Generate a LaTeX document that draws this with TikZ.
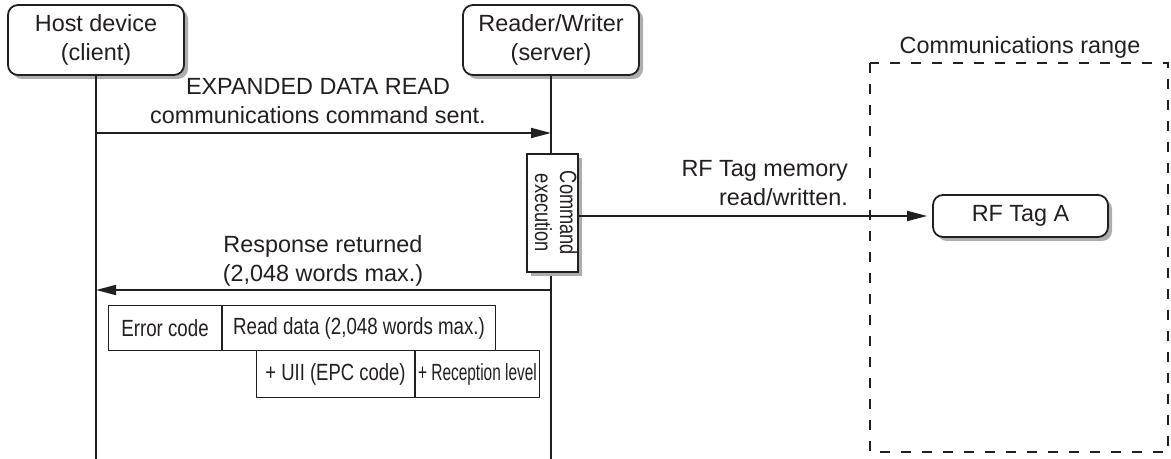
\documentclass[tikz,border=0pt]{standalone}
\usepackage{fontspec}
\setmainfont{Liberation Sans}
\usetikzlibrary{positioning,arrows.meta,shadows}
\definecolor{ink}{HTML}{231F20}

\begin{document}
\begin{tikzpicture}[
  x=0.5pt, y=-0.5pt,
  font=\fontsize{11.7}{14.5}\selectfont, text=ink,
  >={Triangle[length=10pt,width=5pt]},
  shd/.style={drop shadow={shadow xshift=2pt, shadow yshift=-2pt, fill=black!32, opacity=1}},
  actor/.style={rounded corners=5pt, draw=ink, line width=0.9pt, fill=white, align=center,
                inner sep=0pt, minimum width=88pt, minimum height=35pt, shd},
  tagbox/.style={actor, minimum width=87.5pt, minimum height=21pt},
  execbox/.style={draw=ink, line width=0.6pt, fill=white, inner sep=0pt,
                  minimum width=25.5pt, minimum height=59pt, shd},
  cell/.style={draw=ink, line width=0.5pt, inner sep=0pt, anchor=north west},
  life/.style={line width=0.9pt, draw=ink},
  msg/.style={->, line width=0.9pt, draw=ink},
  rangebox/.style={line width=0.9pt, draw=ink, dash pattern=on 5pt off 5.5pt},
  lbl/.style={align=center},
]
\useasboundingbox (0,0) rectangle (1171,459);

% ---- Communications range ----
\draw[rangebox] (870,63) rectangle (1168,452);
\node[lbl] (rangelbl) at (1020,47) {Communications range};

% ---- Participants ----
\node[actor] (host)   at (96,40)  {Host device\\(client)};
\node[actor] (reader) at (551,40) {Reader/Writer\\(server)};
\node[tagbox] (tag)   at (1020.5,216) {RF Tag A};

\coordinate (bot)   at (0,459);
\coordinate (sendy) at (0,133);
\coordinate (respy) at (0,290);

% ---- Lifelines ----
\draw[life] (host.south)   -- (host.south |- bot);
\draw[life] (reader.south) -- (reader.south |- bot);

% ---- Command execution on the reader ----
\node[execbox] (cmd) at (552.5,213)
  {\rotatebox{-90}{\scalebox{0.78}[1]{\fontsize{11.7}{12.5}\selectfont
   \begin{tabular}{@{}c@{}}Command\\execution\end{tabular}}}};

% ---- Messages ----
\draw[msg] (host.south |- sendy) -- (reader.south |- sendy);
\node[lbl] (sendlbl) at (318,101) {EXPANDED DATA READ\\communications command sent.};

\draw[msg, shorten >=2.5pt] (cmd.east |- tag.west) -- (tag.west);
\node[lbl, align=right, anchor=east] (rflbl) at (855,183) {RF Tag memory\\read/written.};

\draw[msg] (reader.south |- respy) -- (host.south |- respy);
\node[lbl] (resplbl) at (323,261) {Response returned\\(2,048 words max.)};

% ---- Response frame ----
\node[cell, minimum width=56.5pt, minimum height=22.5pt] (errc) at (108,305)
  {\scalebox{0.8}[1]{Error code}};
\node[cell, minimum width=136.5pt, minimum height=22.5pt] (rdata) at (errc.north east)
  {\scalebox{0.8}[1]{Read data (2,048 words max.)}};
\node[cell, minimum width=79pt, minimum height=23.5pt] (uii) at (256,350)
  {\scalebox{0.79}[1]{+ UII (EPC code)}};
\node[cell, minimum width=62pt, minimum height=23.5pt] (recv) at (uii.north east)
  {\scalebox{0.66}[1]{+ Reception level}};
\end{tikzpicture}
\end{document}
